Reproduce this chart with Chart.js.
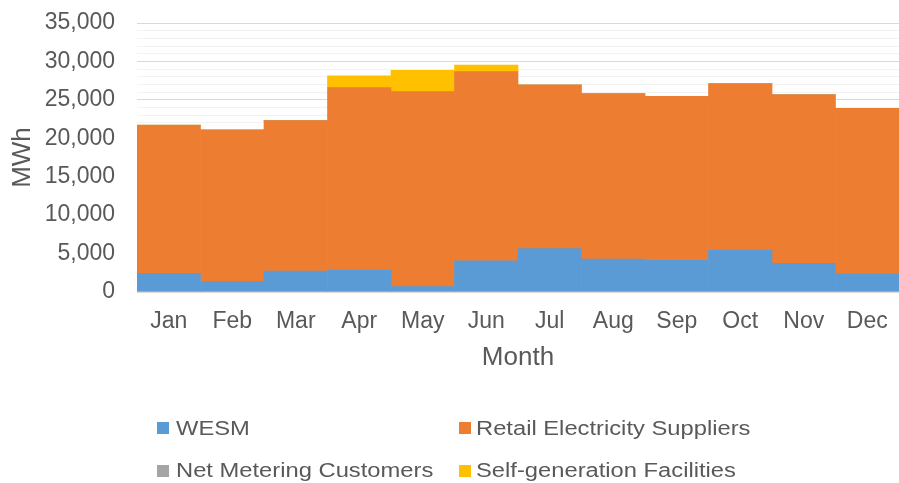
<!DOCTYPE html>
<html>
<head>
<meta charset="utf-8">
<script src="https://cdn.jsdelivr.net/npm/chart.js@4/dist/chart.umd.min.js"></script>
<style>
  html, body { margin: 0; padding: 0; background: #fff; }
  #wrap { position: relative; width: 899px; height: 483px; }
  #legend { position: absolute; left: 0; top: 0; width: 899px; height: 483px; pointer-events: none;
            font-family: "Liberation Sans", Arial, sans-serif; font-size: 20px; color: #595959; }
  .li { position: absolute; white-space: nowrap; line-height: 24px; transform: scaleX(1.187); transform-origin: 0 50%; }
  .sw { position: absolute; width: 12px; height: 12px; }
</style>
</head>
<body>
<div id="wrap">
  <canvas id="c" width="899" height="483"></canvas>
  <div id="legend"></div>
</div>
<script>
const months = ["Jan","Feb","Mar","Apr","May","Jun","Jul","Aug","Sep","Oct","Nov","Dec"];
const wesm = [2430, 1340, 2730, 2860, 690, 4070, 5640, 4290, 4120, 5420, 3730, 2380];
const retail = [19270, 19740, 19560, 23720, 25370, 24590, 21290, 21510, 21340, 21680, 21940, 21520];
const netMetering = [10, 10, 10, 10, 10, 10, 10, 10, 10, 10, 10, 10];
const selfGen = [0, 0, 0, 1520, 2780, 870, 0, 0, 0, 0, 0, 0];
const yTickLabels = [0, 5000, 10000, 15000, 20000, 25000, 30000, 35000];

const seriesNames = ["WESM", "Retail Electricity Suppliers", "Net Metering Customers", "Self-generation Facilities"];
const seriesColors = ["#5B9BD5", "#ED7D31", "#A5A5A5", "#FFC000"];
const seriesData = [wesm, retail, netMetering, selfGen];

const FONT = "'Liberation Sans', Arial, sans-serif";
const TXT = "#595959";

const datasets = seriesData.map((d, i) => ({
  label: seriesNames[i],
  data: d,
  backgroundColor: seriesColors[i],
  borderWidth: 0,
  categoryPercentage: 1.0,
  barPercentage: 1.0
}));

new Chart(document.getElementById("c"), {
  type: "bar",
  data: { labels: months, datasets },
  options: {
    responsive: false,
    animation: false,
    layout: { padding: { left: 0, right: 0, top: 23, bottom: 101 } },
    plugins: { legend: { display: false }, tooltip: { enabled: false } },
    scales: {
      x: {
        stacked: true,
        grid: { display: false, drawTicks: false },
        border: { display: true, color: "#D9D9D9", width: 1 },
        ticks: { color: TXT, font: { family: FONT, size: 23 }, padding: 16, maxRotation: 0 },
        title: { display: true, text: "Month", color: TXT, font: { family: FONT, size: 26 }, padding: { top: 0, bottom: 9 } },
        afterFit: (s) => { s.height = 90; s.paddingLeft = 0; s.paddingRight = 0; }
      },
      y: {
        stacked: true,
        min: 0, max: 35000,
        afterBuildTicks: (s) => {
          const t = [];
          for (let v = 0; v <= 35000; v += 1000) t.push({ value: v });
          s.ticks = t;
        },
        grid: {
          drawTicks: false,
          color: (ctx) => (ctx.tick && yTickLabels.includes(ctx.tick.value)) ? "#D9D9D9" : "#F2F2F2",
          lineWidth: 1
        },
        border: { display: false },
        ticks: {
          autoSkip: false,
          color: TXT,
          font: { family: FONT, size: 23 },
          padding: 22,
          callback: (v) => yTickLabels.includes(v) ? v.toLocaleString("en-US") : ""
        },
        title: { display: true, text: "MWh", color: TXT, font: { family: FONT, size: 26 }, padding: { top: 7, bottom: 0 } },
        afterFit: (s) => { s.width = 137; s.paddingTop = 0; s.paddingBottom = 0; }
      }
    }
  }
});

// HTML legend in two columns
const legend = document.getElementById("legend");
const boxX = [157, 459];
const textX = [176, 476];
const boxY = [422, 465];
const textTop = [415.5, 458];
seriesNames.forEach((name, i) => {
  const col = i % 2, row = Math.floor(i / 2);
  const sw = document.createElement("div");
  sw.className = "sw";
  sw.style.left = boxX[col] + "px";
  sw.style.top = boxY[row] + "px";
  sw.style.background = seriesColors[i];
  legend.appendChild(sw);
  const t = document.createElement("div");
  t.className = "li";
  t.textContent = name;
  t.style.left = textX[col] + "px";
  t.style.top = textTop[row] + "px";
  legend.appendChild(t);
});
</script>
</body>
</html>
